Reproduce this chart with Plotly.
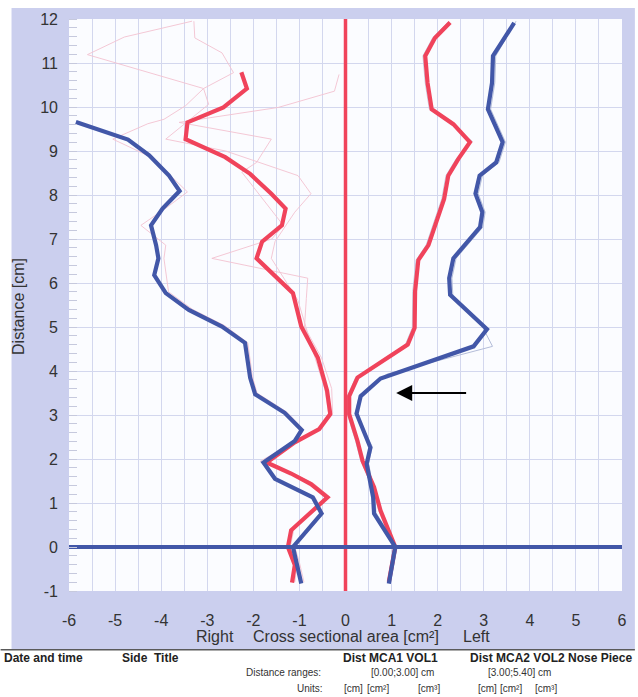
import plotly.graph_objects as go

# ---- Cross-sectional area profiles (x = area in cm², negative = right side; y = distance in cm)
right_red_x = [-1.16, -1.10, -1.25, -1.18, -0.39, -0.75, -1.18, -1.71, -1.10, -0.57, -0.33, -0.40,
               -0.60, -0.96, -1.14, -1.93, -1.81, -1.38, -1.30, -1.61, -2.07, -2.61, -3.47, -3.43,
               -2.65, -2.14, -2.26]
right_red_y = [-0.81, -0.41, 0.00, 0.38, 1.13, 1.43, 1.67, 1.92, 2.38, 2.68, 3.02, 3.55,
               4.30, 5.01, 5.77, 6.56, 6.94, 7.31, 7.69, 8.03, 8.48, 8.86, 9.27, 9.65,
               9.99, 10.42, 10.79]

right_blue_x = [-0.96, -1.05, -1.14, -0.52, -0.71, -1.53, -1.78, -1.10, -0.95, -1.32, -1.96, -2.07,
                -2.18, -2.68, -3.40, -3.90, -4.15, -4.06, -4.11, -4.22, -3.97, -3.60, -3.83, -4.26,
                -4.72, -5.85]
right_blue_y = [-0.83, -0.37, 0.00, 0.76, 1.13, 1.55, 1.92, 2.41, 2.66, 3.05, 3.47, 3.85,
                4.64, 5.01, 5.39, 5.77, 6.18, 6.56, 6.86, 7.31, 7.69, 8.09, 8.44, 8.90,
                9.26, 9.66]

left_red_x = [0.94, 1.01, 1.08, 0.76, 0.62, 0.37, 0.26, 0.08, 0.08, 0.26, 1.35, 1.50, 1.51,
              1.58, 1.80, 2.14, 2.23, 2.45, 2.70, 2.34, 1.87, 1.78, 1.73, 1.94, 2.27]
left_red_y = [-0.79, -0.45, 0.00, 0.83, 1.36, 1.96, 2.41, 3.02, 3.43, 3.85, 4.60, 4.98, 5.81,
              6.52, 6.86, 7.91, 8.44, 8.82, 9.20, 9.61, 9.95, 10.55, 11.16, 11.57, 11.92]

left_blue_x = [0.94, 1.01, 1.08, 0.62, 0.60, 0.46, 0.54, 0.24, 0.33, 0.76, 2.78, 3.07, 2.27,
               2.25, 2.34, 2.92, 2.97, 2.82, 2.91, 3.27, 3.41, 3.09, 3.18, 3.20, 3.66]
left_blue_y = [-0.83, -0.37, 0.00, 0.76, 1.13, 1.89, 2.26, 3.03, 3.43, 3.83, 4.56, 4.95, 5.73,
               6.11, 6.56, 7.27, 7.61, 8.03, 8.44, 8.74, 9.20, 9.95, 10.55, 11.16, 11.91]

# ---- Faint repeat measurements
left_blue_thin_x = [0.98, 1.05, 1.12, 0.66, 0.64, 0.50, 0.58, 0.22, 0.30, 0.90, 3.19, 2.95, 2.33,
                    2.31, 2.40, 2.98, 3.03, 2.88, 2.97, 3.33, 3.47, 3.15, 3.24, 3.26, 3.70]
left_blue_thin_y = [-0.80, -0.40, 0.00, 0.78, 1.15, 1.90, 2.28, 3.05, 3.45, 3.93, 4.56, 5.05, 5.70,
                    6.11, 6.56, 7.27, 7.61, 8.03, 8.44, 8.74, 9.20, 9.95, 10.55, 11.16, 11.95]

left_red_thin_x = [0.92, 0.98, 1.05, 0.72, 0.58, 0.33, 0.22, 0.04, 0.04, 0.22, 1.30, 1.45, 1.46,
                   1.53, 1.75, 2.09, 2.18, 2.40, 2.75, 2.29, 1.82, 1.73, 1.68, 1.89, 2.24]
left_red_thin_y = [-0.79, -0.45, 0.00, 0.83, 1.36, 1.96, 2.41, 3.02, 3.43, 3.85, 4.60, 4.98, 5.81,
                   6.52, 6.86, 7.91, 8.44, 8.82, 9.22, 9.61, 9.95, 10.55, 11.16, 11.57, 11.95]

pink_a_x = [-0.90, -1.00, -1.10, -0.48, -0.66, -1.50, -1.85, -1.05, -0.92, -1.28, -1.92, -2.02,
            -2.12, -2.62, -3.32, -3.84, -3.94, -3.90, -4.44, -3.90, -3.43, -3.80, -4.20, -5.05,
            -4.29, -3.94, -3.47, -3.08, -5.60, -4.80, -3.33]
pink_a_y = [-0.80, -0.35, 0.00, 0.76, 1.13, 1.55, 1.95, 2.42, 2.68, 3.07, 3.50, 3.87,
            4.64, 5.03, 5.40, 5.80, 6.56, 6.86, 7.31, 7.70, 8.07, 8.45, 8.85, 9.27,
            9.62, 9.72, 10.03, 10.42, 11.19, 11.59, 11.95]

pink_b_x = [-1.10, -1.05, -1.20, -1.12, -0.35, -0.70, -1.15, -1.75, -1.05, -0.52, -0.28, -0.30,
            -0.52, -0.89, -0.85, -0.82, -2.90, -1.60, -1.35, -1.75, -2.25, -1.93, -1.61, -3.61,
            -1.46, -0.24, -0.14]
pink_b_y = [-0.80, -0.40, 0.00, 0.40, 1.15, 1.45, 1.68, 1.95, 2.40, 2.70, 3.05, 3.60,
            4.30, 5.00, 5.65, 6.11, 6.56, 7.00, 7.31, 7.84, 8.52, 8.74, 9.27, 9.65,
            9.99, 10.36, 10.74]

pink_c_x = [-1.12, -1.08, -1.22, -1.15, -0.42, -0.78, -1.20, -1.68, -1.12, -0.60, -0.36, -0.45,
            -0.66, -1.03, -1.61, -1.53, -1.10, -0.75, -1.03, -2.60, -3.90, -2.97, -3.08, -2.43,
            -2.68, -3.27, -3.29]
pink_c_y = [-0.80, -0.40, 0.00, 0.40, 1.12, 1.42, 1.66, 1.90, 2.36, 2.66, 3.00, 3.60,
            4.30, 5.60, 6.56, 6.94, 7.61, 8.03, 8.44, 9.00, 9.27, 10.06, 10.42, 10.78,
            11.23, 11.57, 11.95]

# ---- Reference lines
mid_line_x = [0, 0]
mid_line_y = [-1, 12]
base_line_x = [-6, 6]
base_line_y = [0, 0]

# ---- Axis ticks
x_ticks = [-6, -5, -4, -3, -2, -1, 0, 1, 2, 3, 4, 5, 6]
x_tick_text = ["-6", "-5", "-4", "-3", "-2", "-1", "0", "1", "2", "3", "4", "5", "6"]
y_ticks = [-1, 0, 1, 2, 3, 4, 5, 6, 7, 8, 9, 10, 11, 12]
y_tick_text = ["-1", "0", "1", "2", "3", "4", "5", "6", "7", "8", "9", "10", "11", "12"]

# ---- Arrow marking the narrowest section
arrow_head = (1.10, 3.50)
arrow_tail = (2.65, 3.50)

RED = "#f0435b"
BLUE = "#4257a8"
PINK = "#f3c2d0"
PALE = "#b4bdd9"
LAV = "#cbcfee"
FONT = "Liberation Sans"

fig = go.Figure()


def line(x, y, color, width):
    fig.add_trace(go.Scatter(x=x, y=y, mode="lines", hoverinfo="skip",
                             line=dict(color=color, width=width), showlegend=False))


# faint traces first, then the thick averages on top
line(pink_a_x, pink_a_y, PINK, 0.9)
line(pink_b_x, pink_b_y, PINK, 0.9)
line(pink_c_x, pink_c_y, PINK, 0.9)
line(left_blue_thin_x, left_blue_thin_y, PALE, 1)
line(left_red_thin_x, left_red_thin_y, "#c8ccdd", 1)

line(mid_line_x, mid_line_y, RED, 3.5)
line(right_red_x, right_red_y, RED, 4.2)
line(left_red_x, left_red_y, RED, 4.2)
line(right_blue_x, right_blue_y, BLUE, 4.2)
line(left_blue_x, left_blue_y, BLUE, 4.2)
line(base_line_x, base_line_y, BLUE, 4)

# plot area in pixels: left 69, right 627, top 16, bottom 591
L, R, T, B = 69, 11, 16, 106
W, H = 638, 697
PW, PH = W - L - R, H - T - B


def px(xp):
    return (xp - L) / PW


def py(yp):
    return (H - B - yp) / PH


def band(x0, x1, y0, y1):
    return dict(type="rect", xref="paper", yref="paper", x0=px(x0), x1=px(x1),
                y0=py(y1), y1=py(y0), fillcolor=LAV, line=dict(width=0), layer="below")


# lavender frame around the white plotting area
shapes = [
    band(11, 640, 5, T),
    band(11, 640, H - B, 650),
    band(11, L, T, H - B),
    band(W - R, 640, T, H - B),
    dict(type="line", xref="paper", yref="paper", x0=px(0), x1=px(640), y0=py(650), y1=py(650),
         line=dict(color="#5a5a5a", width=1.5)),
]

annotations = [
    dict(x=arrow_head[0], y=arrow_head[1], ax=arrow_tail[0], ay=arrow_tail[1],
         xref="x", yref="y", axref="x", ayref="y", text="", showarrow=True,
         arrowhead=2, arrowsize=1.6, arrowwidth=2, arrowcolor="black"),
]


def label(text, xp, yp, size, anchor="center", bold=False, color="#333333", angle=0):
    annotations.append(dict(
        text=f"<b>{text}</b>" if bold else text, x=px(xp), y=py(yp),
        xref="paper", yref="paper", showarrow=False, xanchor=anchor, yanchor="middle",
        textangle=angle, font=dict(family=FONT, size=size, color=color)))


label("Distance [cm]", 18, 305, 16, angle=-90)
label("Right", 216, 637, 16)
label("Cross sectional area [cm²]", 348, 637, 16)
label("Left", 480, 637, 16)

label("Date and time", 1, 658, 12, "left", True, "#222222")
label("Side", 120, 658, 12, "left", True, "#222222")
label("Title", 153, 658, 12, "left", True, "#222222")
label("Dist MCA1 VOL1", 343, 658, 12, "left", True, "#222222")
label("Dist MCA2 VOL2 Nose Piece", 472, 658, 12, "left", True, "#222222")
label("Distance ranges:", 325, 673, 10, "right")
label("[0.00;3.00] cm", 372, 673, 10, "left")
label("[3.00;5.40] cm", 490, 673, 10, "left")
label("Units:", 327, 689, 10, "right")
for txt, xp in [("[cm]", 344), ("[cm²]", 368), ("[cm³]", 419),
                ("[cm]", 480), ("[cm²]", 502), ("[cm³]", 537)]:
    label(txt, xp, 689, 10, "left")

grid = "#d3d7ee"
fig.update_layout(
    width=W, height=H,
    margin=dict(l=L, r=R, t=T, b=B, pad=0),
    paper_bgcolor="white",
    plot_bgcolor="#fbfcff",
    shapes=shapes,
    annotations=annotations,
    font=dict(family=FONT, size=16, color="#333333"),
    xaxis=dict(range=[-6, 6], tickvals=x_ticks, ticktext=x_tick_text, showgrid=True,
               gridcolor=grid, gridwidth=1, zeroline=False, showline=False, ticks="",
               ticklabelstandoff=18, tickfont=dict(family=FONT, size=16, color="#333333"),
               minor=dict(dtick=0.5, showgrid=True, gridcolor=grid, gridwidth=1)),
    yaxis=dict(range=[-1, 12], tickvals=y_ticks, ticktext=y_tick_text, showgrid=True,
               gridcolor=grid, gridwidth=1, zeroline=False, showline=False, ticks="",
               ticklabelstandoff=10, tickfont=dict(family=FONT, size=16, color="#333333"),
               minor=dict(dtick=0.2, ticks="inside", ticklen=8, tickcolor="#c6c9dd",
                          showgrid=False)),
)

fig.write_html("out.html")
